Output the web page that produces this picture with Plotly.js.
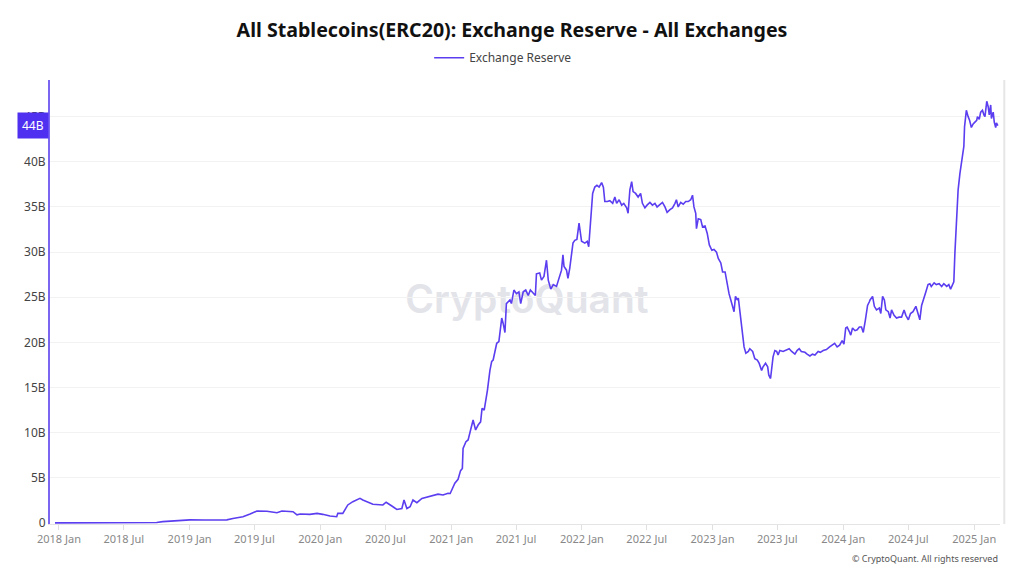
<!DOCTYPE html>
<html>
<head>
<meta charset="utf-8">
<script src="https://cdn.plot.ly/plotly-3.0.1.min.js"></script>
<style>html,body{margin:0;padding:0;background:#fff;}#chart{width:1024px;height:576px;}</style>
</head>
<body>
<div id="chart"></div>
<script>
const dates = [
"2017-12-21","2018-02-01","2018-04-01","2018-06-01","2018-07-15","2018-09-01","2018-10-01","2018-10-18","2018-11-15","2018-12-05",
"2019-01-02","2019-02-12","2019-03-26","2019-04-15","2019-05-02","2019-05-30","2019-06-19","2019-07-08","2019-08-05","2019-09-02",
"2019-09-16","2019-10-17","2019-10-28","2019-11-06","2019-12-03","2019-12-23","2020-01-08","2020-01-28","2020-02-16","2020-02-19",
"2020-03-04","2020-03-18","2020-04-01","2020-04-21","2020-04-29","2020-05-19","2020-05-27","2020-06-24","2020-07-03","2020-07-19",
"2020-08-02","2020-08-16","2020-08-22","2020-08-30","2020-09-08","2020-09-16","2020-09-27","2020-10-11","2020-10-25","2020-11-11",
"2020-11-25","2020-12-09","2020-12-23","2020-12-29","2021-01-02","2021-01-11","2021-01-20","2021-01-27","2021-02-01","2021-02-03",
"2021-02-11","2021-02-17","2021-02-24","2021-03-03","2021-03-10","2021-03-17","2021-03-24","2021-03-28","2021-04-03","2021-04-08",
"2021-04-12","2021-04-19","2021-04-24","2021-04-28","2021-05-03","2021-05-08","2021-05-14","2021-05-22","2021-05-26","2021-05-31",
"2021-06-04","2021-06-14","2021-06-18","2021-06-25","2021-07-02","2021-07-09","2021-07-14","2021-07-21","2021-07-28","2021-08-04",
"2021-08-10","2021-08-18","2021-08-24","2021-08-27","2021-09-05","2021-09-10","2021-09-17","2021-09-24","2021-09-29","2021-10-06",
"2021-10-13","2021-10-22","2021-10-29","2021-11-05","2021-11-09","2021-11-12","2021-11-19","2021-11-23","2021-11-28","2021-12-03",
"2021-12-07","2021-12-12","2021-12-18","2021-12-24","2021-12-31","2022-01-09","2022-01-16","2022-01-20","2022-01-25","2022-01-31",
"2022-02-06","2022-02-12","2022-02-18","2022-02-25","2022-03-02","2022-03-06","2022-03-13","2022-03-20","2022-03-28","2022-04-03",
"2022-04-08","2022-04-15","2022-04-22","2022-04-28","2022-05-06","2022-05-10","2022-05-15","2022-05-20","2022-05-24","2022-05-31",
"2022-06-07","2022-06-14","2022-06-19","2022-06-26","2022-07-02","2022-07-10","2022-07-17","2022-07-24","2022-07-30","2022-08-07",
"2022-08-14","2022-08-21","2022-08-27","2022-09-04","2022-09-11","2022-09-18","2022-09-22","2022-09-27","2022-10-04","2022-10-11",
"2022-10-18","2022-10-25","2022-11-01","2022-11-06","2022-11-10","2022-11-15","2022-11-17","2022-11-22","2022-11-29","2022-12-04",
"2022-12-11","2022-12-17","2022-12-23","2022-12-30","2023-01-05","2023-01-12","2023-01-17","2023-01-24","2023-01-29","2023-02-05",
"2023-02-09","2023-02-16","2023-02-21","2023-02-25","2023-03-02","2023-03-06","2023-03-11","2023-03-14","2023-03-19","2023-03-23",
"2023-03-26","2023-03-30","2023-04-04","2023-04-11","2023-04-15","2023-04-23","2023-04-29","2023-05-06","2023-05-11","2023-05-18",
"2023-05-22","2023-05-29","2023-06-04","2023-06-07","2023-06-12","2023-06-15","2023-06-19","2023-06-24","2023-06-29","2023-07-03",
"2023-07-08","2023-07-17","2023-07-27","2023-08-03","2023-08-10","2023-08-19","2023-08-25","2023-08-31","2023-09-06","2023-09-16",
"2023-09-22","2023-09-30","2023-10-07","2023-10-14","2023-10-23","2023-10-29","2023-11-06","2023-11-15","2023-11-24","2023-12-02",
"2023-12-08","2023-12-15","2023-12-22","2023-12-29","2024-01-03","2024-01-08","2024-01-12","2024-01-18","2024-01-22","2024-01-27",
"2024-02-03","2024-02-09","2024-02-15","2024-02-21","2024-02-26","2024-03-03","2024-03-09","2024-03-14","2024-03-16","2024-03-23",
"2024-03-28","2024-04-03","2024-04-11","2024-04-15","2024-04-20","2024-04-25","2024-04-29","2024-05-06","2024-05-11","2024-05-15",
"2024-05-22","2024-05-29","2024-06-05","2024-06-12","2024-06-19","2024-06-24","2024-07-01","2024-07-07","2024-07-14","2024-07-22",
"2024-07-28","2024-08-02","2024-08-07","2024-08-11","2024-08-19","2024-08-25","2024-08-30","2024-09-03","2024-09-11","2024-09-17",
"2024-09-25","2024-10-02","2024-10-08","2024-10-16","2024-10-22","2024-10-27","2024-11-01","2024-11-05","2024-11-08","2024-11-10",
"2024-11-14","2024-11-17","2024-11-22","2024-11-26","2024-11-29","2024-12-03","2024-12-05","2024-12-10","2024-12-15","2024-12-19",
"2024-12-24","2024-12-29","2025-01-03","2025-01-08","2025-01-10","2025-01-15","2025-01-19","2025-01-24","2025-01-28","2025-01-31",
"2025-02-05","2025-02-09","2025-02-12","2025-02-16","2025-02-18","2025-02-23","2025-02-26","2025-03-02","2025-03-04","2025-03-08"
];
const reserveB = [
0.02,0.02,0.03,0.04,0.06,0.05,0.06,0.15,0.20,0.28,
0.35,0.33,0.32,0.35,0.50,0.70,1.00,1.33,1.30,1.14,
1.33,1.25,0.90,1.00,0.96,1.07,0.96,0.78,0.70,1.07,
1.07,2.00,2.36,2.73,2.55,2.25,2.07,2.00,2.30,1.88,
1.50,1.60,2.55,1.60,1.80,2.55,2.25,2.73,2.90,3.10,
3.20,3.10,3.30,3.27,3.65,4.40,4.84,5.80,6.05,8.27,
9.00,9.20,10.30,11.40,10.30,10.85,11.20,12.70,12.50,13.60,
14.70,16.90,17.90,18.05,19.00,19.90,20.10,22.70,22.10,21.10,
24.30,24.70,24.30,25.80,25.40,25.60,24.30,25.60,25.80,25.20,
25.80,25.40,25.20,27.60,27.70,26.90,27.30,29.10,26.90,25.90,
26.40,26.20,27.10,28.00,29.70,28.40,28.00,27.10,28.20,29.90,
31.00,31.30,31.40,33.20,31.20,31.00,31.20,30.60,33.60,36.50,
37.20,37.40,37.20,37.70,37.20,35.60,35.60,35.70,35.40,36.10,
35.40,35.80,35.20,35.40,34.90,34.30,36.90,37.80,36.70,36.50,
36.10,36.50,35.40,34.90,35.20,35.50,35.20,35.40,35.00,35.30,
35.50,35.00,34.40,34.70,34.90,35.40,35.80,35.00,35.50,35.30,
35.60,35.60,35.80,36.30,35.00,34.30,32.60,33.70,33.60,32.80,
32.90,32.10,30.80,30.20,30.30,30.00,29.30,28.80,27.80,27.80,
26.90,25.40,24.70,24.00,23.40,25.10,24.70,24.90,23.20,21.70,
20.60,19.50,18.80,19.00,19.30,19.00,18.20,18.05,17.70,16.90,
17.30,17.70,17.30,16.40,16.00,17.30,18.40,19.10,19.00,18.60,
19.10,19.00,19.20,19.30,19.00,18.70,19.10,19.30,19.00,18.90,
18.70,18.50,18.70,18.60,19.00,18.90,19.10,19.20,19.50,19.70,
19.90,19.50,19.70,20.20,19.80,21.60,21.70,21.20,20.80,21.60,
21.30,21.40,21.70,21.70,21.10,22.50,24.10,24.50,24.70,25.10,
24.00,23.60,23.80,23.20,25.10,24.70,23.60,23.40,22.70,23.60,
23.00,22.70,22.80,22.80,23.60,23.00,22.50,23.20,23.40,24.00,
23.20,22.50,24.10,24.70,25.60,26.40,26.50,26.20,26.60,26.40,
26.50,26.20,26.50,26.20,26.40,25.90,26.40,26.70,29.90,31.30,
33.90,36.90,38.70,39.80,40.90,41.70,43.90,45.70,45.00,44.60,
43.80,44.20,44.40,44.60,45.00,44.70,45.50,45.70,45.20,45.00,
46.70,46.10,45.20,46.30,44.80,45.50,44.40,43.80,44.30,44.00
];
const yTickVals = [0,5,10,15,20,25,30,35,40,45];
const yTickText = ["0","5B","10B","15B","20B","25B","30B","35B","40B","45B"];
const seriesName = "Exchange Reserve";
const chartTitle = "All Stablecoins(ERC20): Exchange Reserve - All Exchanges";
const watermarkText = "CryptoQuant";
const copyrightText = "© CryptoQuant. All rights reserved";
const lastLabel = "44B";
const lastValue = 44.0;

const purple = "#5a3ef0";

const trace = {
  x: dates, y: reserveB, type: "scatter", mode: "lines", name: seriesName,
  line: {color: purple, width: 1.6},
  hoverinfo: "x+y"
};

const layout = {
  width: 1024, height: 576,
  margin: {l: 50, r: 24, t: 80, b: 52, pad: 0},
  paper_bgcolor: "#ffffff", plot_bgcolor: "#ffffff",
  font: {family: "Noto Sans, Open Sans, sans-serif", color: "#444"},
  title: {
    text: chartTitle, x: 0.5, xanchor: "center", y: 0.948, yanchor: "middle",
    font: {family: "Noto Sans, sans-serif", size: 19.6, weight: 700, color: "#111"}
  },
  showlegend: true,
  legend: {
    orientation: "h", x: 0.477, xanchor: "center", y: 1.05, yanchor: "middle",
    font: {size: 12, color: "#444"}, bgcolor: "rgba(0,0,0,0)"
  },
  xaxis: {
    type: "date", range: ["2017-12-07", "2025-03-14"],
    tick0: "2018-01-01", dtick: "M6", tickformat: "%Y %b",
    showgrid: false, zeroline: false,
    showline: true, linecolor: "#e4e4e4", linewidth: 1,
    ticks: "outside", ticklen: 5, tickcolor: "#e0e0e0",
    tickfont: {size: 11, color: "#888"}
  },
  yaxis: {
    range: [-0.11, 49.06], tickvals: yTickVals, ticktext: yTickText,
    showgrid: true, gridcolor: "#f2f2f2", zeroline: false,
    showline: true, linecolor: "#7b66f2", linewidth: 2,
    ticks: "", tickfont: {size: 12, color: "#444"}
  },
  shapes: [
    {type: "line", xref: "paper", yref: "paper", x0: 1.0045, x1: 1.0045, y0: 0, y1: 1,
     line: {color: "#e6e6e6", width: 2}},
    {type: "rect", xref: "paper", yref: "paper", x0: 0.3, x1: 0.704, y0: 0.43, y1: 0.59,
     layer: "below", line: {width: 0}, fillcolor: "rgba(0,0,0,0)",
     label: {text: watermarkText, textposition: "middle center",
             font: {family: "Inter, sans-serif", size: 39, weight: 600, color: "#e3e3ea"}}}
  ],
  annotations: [
    {text: copyrightText, xref: "paper", yref: "paper",
     x: 1, y: -0.077, xanchor: "right", yanchor: "middle", showarrow: false,
     font: {size: 9, color: "#555"}},
    {text: lastLabel, xref: "paper", yref: "y", x: 0, y: lastValue,
     xanchor: "right", yanchor: "middle", showarrow: false, xshift: -1,
     bgcolor: "#4f30f0", borderpad: 4, font: {size: 12, color: "#ffffff"}}
  ]
};

Plotly.newPlot("chart", [trace], layout, {displayModeBar: false, staticPlot: true});
</script>
</body>
</html>
